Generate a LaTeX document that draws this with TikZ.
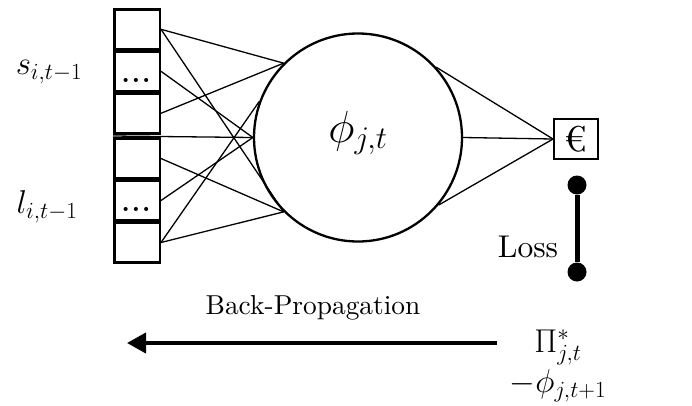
\RequirePackage{fix-cm}
\documentclass[tikz,border=0pt]{standalone}
\usepackage{fontspec}
\setmainfont{lmroman10-regular}[Extension=.otf,BoldFont=lmroman10-bold]
\usetikzlibrary{arrows.meta}
\begin{document}
\begin{tikzpicture}[x=1pt,y=-1pt,
  cell/.style={draw,line width=2.5pt,minimum width=45.5pt,minimum height=40pt,inner sep=0pt},
  link/.style={line width=1.3pt},
  dotnode/.style={circle,fill=black,minimum size=19pt,inner sep=0pt},
  mathlbl/.style={font=\fontsize{33}{38}\selectfont,inner sep=0pt},
  txtlbl/.style={font=\fontsize{27.4}{32}\selectfont,inner sep=0pt},
  dots/.style={font=\fontsize{26}{26}\selectfont\bfseries,inner sep=0pt}]
\useasboundingbox (0,0) rectangle (692,405);
% input cells
\node[cell] (b1) at (137,29.3) {};
\node[cell] (b2) at (137,71.3) {};
\node[cell] (b3) at (137,113.3) {};
\node[cell] (b4) at (137,158.5) {};
\node[cell] (b5) at (137,200.5) {};
\node[cell] (b6) at (137,242.5) {};
\node[dots,anchor=base] (d2txt) at (136,82) {.\kern2pt.\kern2pt.};
\node[dots,anchor=base] (d5txt) at (136,211) {.\kern2pt.\kern2pt.};
\coordinate (g) at (113,136);
% neuron
\node[circle,draw,line width=2.3pt,minimum size=208pt,inner sep=0pt] (c) at (358,137.5) {};
\node[font=\fontsize{45}{50}\selectfont,inner sep=0pt,anchor=base] (phi) at (358,142) {$\phi_{j,t}$};
% links
\draw[link] (b1.east) -- (c.135);
\draw[link] (b1.east) -- (c.225);
\draw[link] (b2.east) -- (c.west);
\draw[link] (b3.east) -- (c.135);
\draw[link] (g) -- (c.west);
\draw[link] (b4.east) -- (c.225);
\draw[link] (b5.east) -- (c.west);
\draw[link] (b6.east) -- (c.160);
\draw[link] (b6.east) -- (c.225);
% output
\node[draw,line width=2pt,minimum width=44pt,minimum height=40pt,inner sep=0pt,
      font=\fontsize{36}{40}\selectfont] (e) at (576,139) {€};
\draw[link] (c.42) -- (e.west);
\draw[link] (c.east) -- (e.west);
\draw[link] (c.-40) -- (e.west);
% loss
\node[dotnode] (l1) at (577,185) {};
\node[dotnode] (l2) at (577,272) {};
\draw[line width=5pt] (l1) -- (l2);
\node[txtlbl,font=\fontsize{31.5}{35}\selectfont] (loss) at (528,247) {Loss};
% labels
\node[mathlbl] (s) at (49,72) {$s_{i,t-1}$};
\node[mathlbl] (l) at (47,207) {$l_{i,t-1}$};
\node[txtlbl] (bp) at (313,308) {Back-Propagation};
\node[mathlbl] (pi) at (558,347) {$\Pi^*_{j,t}$};
\node[mathlbl] (phi2) at (558,386) {$-\phi_{j,t+1}$};
% back-propagation arrow
\coordinate (as) at (497,343);
\coordinate (ae) at (127,343);
\draw[line width=4pt,-{Triangle[length=19pt,width=20pt]}] (as) -- (ae);
\end{tikzpicture}
\end{document}
